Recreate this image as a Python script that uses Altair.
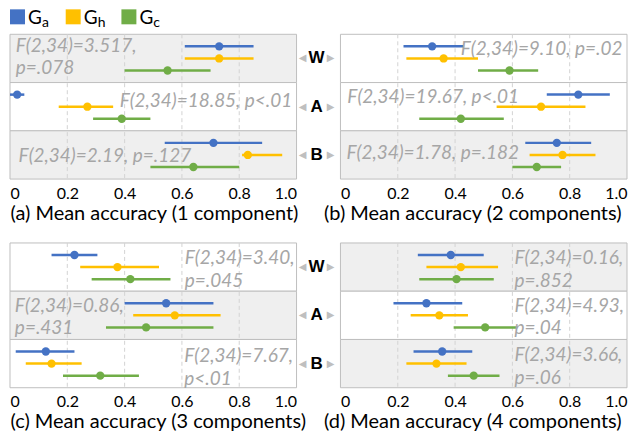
import altair as alt
import pandas as pd

FONT = "Lato"

rows = ["W", "A", "B"]
groups = ["Ga", "Gh", "Gc"]
group_subs = ["a", "h", "c"]
group_colors = ["#4472C4", "#FFC000", "#70AD47"]
tick_values = [0, 0.2, 0.4, 0.6, 0.8, 1.0]
grid_values = [0.2, 0.4, 0.6, 0.8]

titles = ["(a) Mean accuracy (1 component)", "(b) Mean accuracy (2 components)",
          "(c) Mean accuracy (3 components)", "(d) Mean accuracy (4 components)"]

# row-major: W(Ga,Gh,Gc), A(Ga,Gh,Gc), B(Ga,Gh,Gc)
means_a = [0.73, 0.73, 0.55, 0.025, 0.27, 0.39, 0.71, 0.83, 0.64]
lo_a = [0.61, 0.61, 0.40, 0.00, 0.17, 0.29, 0.54, 0.81, 0.49]
hi_a = [0.85, 0.85, 0.70, 0.05, 0.36, 0.49, 0.88, 0.95, 0.80]

means_b = [0.32, 0.36, 0.59, 0.83, 0.70, 0.42, 0.755, 0.775, 0.685]
lo_b = [0.22, 0.23, 0.48, 0.72, 0.545, 0.275, 0.645, 0.66, 0.60]
hi_b = [0.43, 0.48, 0.69, 0.94, 0.855, 0.57, 0.875, 0.89, 0.77]

means_c = [0.225, 0.375, 0.42, 0.545, 0.575, 0.475, 0.125, 0.145, 0.315]
lo_c = [0.145, 0.245, 0.285, 0.40, 0.43, 0.335, 0.02, 0.055, 0.185]
hi_c = [0.305, 0.52, 0.56, 0.71, 0.735, 0.71, 0.225, 0.25, 0.45]

means_d = [0.385, 0.42, 0.405, 0.30, 0.345, 0.505, 0.355, 0.335, 0.465]
lo_d = [0.27, 0.30, 0.275, 0.185, 0.245, 0.395, 0.255, 0.23, 0.375]
hi_d = [0.50, 0.55, 0.535, 0.425, 0.445, 0.615, 0.46, 0.44, 0.555]

shade_a = [1, 0, 1]
shade_b = [0, 0, 1]
shade_c = [0, 1, 0]
shade_d = [1, 0, 1]

# statistics text lines per row (W, A, B)
stats_a = [["F(2,34)=3.517,", "p=.078"], ["F(2,34)=18.85, p<.01"], ["F(2,34)=2.19, p=.127"]]
stats_b = [["F(2,34)=9.10, p=.02"], ["F(2,34)=19.67, p<.01"], ["F(2,34)=1.78, p=.182"]]
stats_c = [["F(2,34)=3.40,", "p=.045"], ["F(2,34)=0.86,", "p=.431"], ["F(2,34)=7.67,", "p<.01"]]
stats_d = [["F(2,34)=0.16,", "p=.852"], ["F(2,34)=4.93,", "p=.04"], ["F(2,34)=3.66,", "p=.06"]]

# annotation anchor (x in data units), alignment, vertical nudge of each line
place_a = [(0.02, "left", [-12, 10]), (0.985, "right", [-6]), (0.03, "left", [1])]
place_b = [(0.984, "right", [-9]), (0.024, "left", [-10]), (0.021, "left", [-2])]
place_c = [(0.61, "left", [-9, 14]), (0.017, "left", [-9, 13]), (0.608, "left", [-8, 15])]
place_d = [(0.607, "left", [-9, 14]), (0.607, "left", [-9, 13]), (0.607, "left", [-9, 14])]

PW = 287
PH = 145
MIDW = 44

ys = alt.Y("row:N", scale=alt.Scale(domain=rows, paddingInner=0, paddingOuter=0), axis=None)
yo = alt.YOffset("group:N", scale=alt.Scale(domain=groups, paddingInner=0, paddingOuter=0.5))
col = alt.Color("group:N", scale=alt.Scale(domain=groups, range=group_colors), legend=None)
xscale = alt.Scale(domain=[0, 1], nice=False, zero=False)


def panel(means, lo, hi, shade, stats, place, title, title_x):
    df = pd.DataFrame({
        "row": [rows[i // 3] for i in range(9)],
        "group": [groups[i % 3] for i in range(9)],
        "mean": means, "lo": lo, "hi": hi,
    })
    bg = pd.DataFrame({"row": rows, "shade": shade})
    gdf = pd.DataFrame({"v": grid_values})
    xaxis = alt.Axis(
        values=tick_values,
        labelExpr="datum.value == 0 ? '0' : format(datum.value, '.1f')",
        labelFlush=True, grid=False, ticks=False, domain=False,
        labelFont=FONT, labelFontSize=16, labelColor="black", labelPadding=6,
        title=title, titleFont=FONT, titleFontSize=20, titleFontWeight="normal",
        titleColor="black", titlePadding=2, titleAnchor="start", titleAlign="left",
        titleX=title_x,
    )
    rect = alt.Chart(bg).mark_rect(stroke="#bfbfbf", strokeWidth=1).encode(
        y=ys, x=alt.value(0), x2=alt.value(PW),
        fill=alt.condition("datum.shade == 1", alt.value("#efefef"), alt.value("#ffffff")),
    )
    grid = alt.Chart(gdf).mark_rule(color="#d3d3d3", strokeDash=[4, 3], strokeWidth=1).encode(
        x=alt.X("v:Q", scale=xscale, axis=xaxis)
    )
    bars = alt.Chart(df).mark_rule(strokeWidth=2.5).encode(
        x=alt.X("lo:Q", scale=xscale, axis=xaxis), x2="hi:Q", y=ys, yOffset=yo, color=col
    )
    pts = alt.Chart(df).mark_circle(size=70, opacity=1).encode(
        x=alt.X("mean:Q", scale=xscale, axis=xaxis), y=ys, yOffset=yo, color=col
    )
    texts = []
    for i in range(3):
        xv, al, dys = place[i]
        for line, dy in zip(stats[i], dys):
            tdf = pd.DataFrame({"row": [rows[i]], "t": [line], "x": [xv]})
            texts.append(
                alt.Chart(tdf).mark_text(
                    align=al, baseline="middle", dy=dy, font=FONT, fontStyle="italic",
                    fontSize=19, color="#a6a6a6",
                ).encode(x=alt.X("x:Q", scale=xscale, axis=xaxis), y=ys, text="t:N")
            )
    return alt.layer(rect, grid, bars, pts, *texts)


def mid():
    mdf = pd.DataFrame({"row": rows})
    base = alt.Chart(mdf)
    letters = base.mark_text(font="Liberation Sans", fontWeight="bold", fontSize=17,
                             color="black", baseline="middle").encode(
        y=ys, x=alt.value(20), text="row:N")
    tl = base.mark_text(text="◀", font="DejaVu Sans", fontSize=10, color="#bfbfbf",
                        baseline="middle").encode(y=ys, x=alt.value(6))
    tr = base.mark_text(text="▶", font="DejaVu Sans", fontSize=10, color="#bfbfbf",
                        baseline="middle").encode(y=ys, x=alt.value(34))
    return alt.layer(tl, letters, tr).properties(width=MIDW, height=PH)


def legend_layer():
    ldf = pd.DataFrame({"idx": [0, 1, 2], "group": groups, "base": ["G"] * 3, "sub": group_subs})
    lx = alt.X("idx:Q", scale=alt.Scale(domain=[0, 2], range=[7.5, 7.5 + 2 * 55.8]), axis=None)
    sq = alt.Chart(ldf).mark_square(size=225, opacity=1).encode(x=lx, y=alt.value(-17.5), color=col)
    g = alt.Chart(ldf).mark_text(align="left", baseline="alphabetic", dx=10.5, font=FONT,
                                 fontSize=19, color="black").encode(x=lx, y=alt.value(-10.3), text="base:N")
    s = alt.Chart(ldf).mark_text(align="left", baseline="alphabetic", dx=24.5, font=FONT,
                                 fontSize=14, color="black").encode(x=lx, y=alt.value(-7.5), text="sub:N")
    return alt.layer(sq, g, s)


pa = alt.layer(
    panel(means_a, lo_a, hi_a, shade_a, stats_a, place_a, titles[0], 0), legend_layer()
).resolve_scale(x="independent").properties(width=PW, height=PH)
pb = panel(means_b, lo_b, hi_b, shade_b, stats_b, place_b, titles[1], -17).properties(width=PW, height=PH)
pc = panel(means_c, lo_c, hi_c, shade_c, stats_c, place_c, titles[2], 0).properties(width=PW, height=PH)
pd_ = panel(means_d, lo_d, hi_d, shade_d, stats_d, place_d, titles[3], -17).properties(width=PW, height=PH)

chart = alt.concat(
    pa, mid(), pb, pc, mid(), pd_,
    columns=3, spacing={"row": 64, "column": 0}, bounds="flush",
).properties(padding=0).configure_view(strokeWidth=0)

chart.save("out.html", embed_options={"renderer": "svg", "actions": False})
